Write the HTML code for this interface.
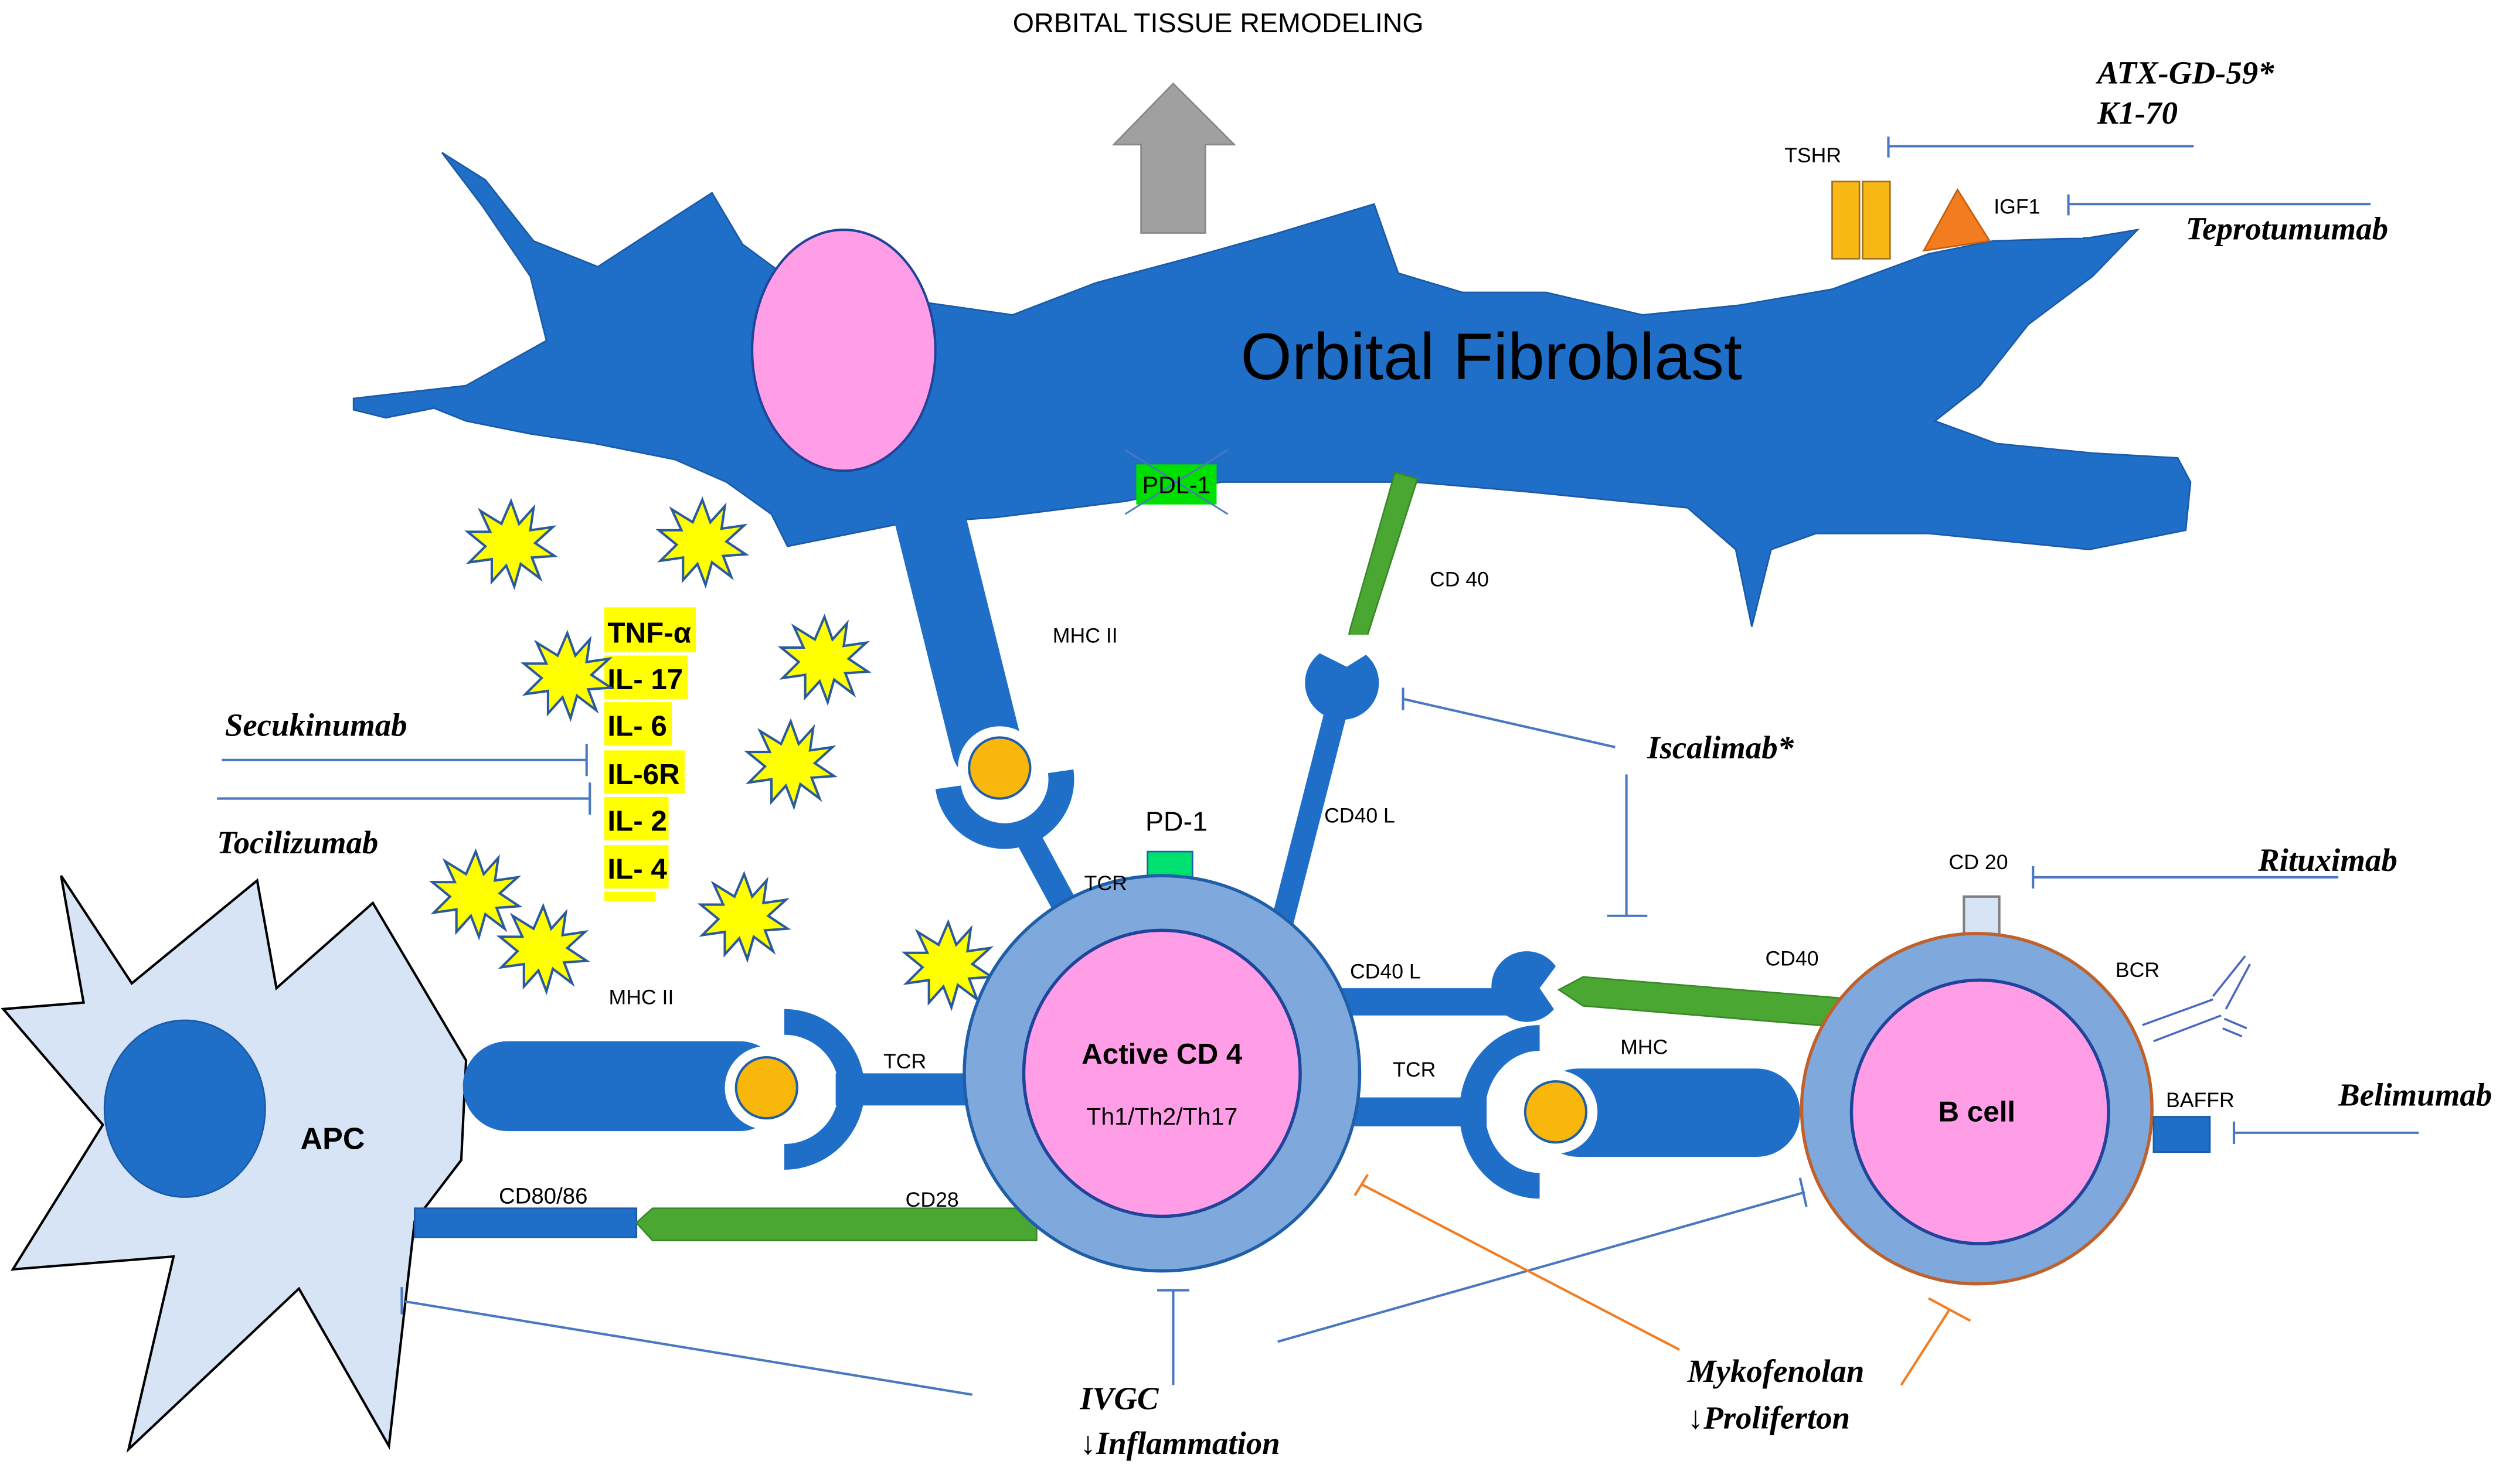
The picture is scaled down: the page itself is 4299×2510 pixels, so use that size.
<!DOCTYPE html>
<html><head><meta charset="utf-8"><style>
html,body{margin:0;padding:0;background:#fff;}
svg{display:block;}
text{font-family:"Liberation Sans",sans-serif;}
.it{font-family:"Liberation Serif",serif;font-style:italic;font-weight:bold;font-size:20px;}
.lb{font-size:13px;fill:#000;}
.ck{font-size:18px;font-weight:bold;}
</style></head><body>
<svg width="4299" height="2510" viewBox="0 0 1568 915.5" preserveAspectRatio="none" xmlns="http://www.w3.org/2000/svg">
<defs>
<g id="star"><polygon points="0,-26 5,-12 14,-22 12,-8 26,-10 15,0 27,8 13,9 18,22 6,13 2,27 -3,14 -12,24 -12,10 -26,12 -16,2 -27,-7 -13,-7 -19,-20 -6,-12" fill="#ffff00" stroke="#2a5a9c" stroke-width="1.5"/></g>
</defs>
<text x="758" y="20" text-anchor="middle" font-size="17">ORBITAL TISSUE REMODELING</text>
<polygon points="710,145 750,145 750,90 768,90 730,52 693,90 710,90" fill="#a0a0a0" stroke="#888" stroke-width="1"/>
<path d="M220,248 L290,240 L340,212 L330,172 L300,128 L275,95 L302,112 L332,150 L372,166 L412,140 L443,120 L462,152 L500,180 L560,186 L630,196 L682,176 L742,160 L792,146 L855,127 L870,170 L910,182 L962,182 L1022,196 L1082,190 L1140,180 L1200,158 L1240,150 L1300,148 L1330,143 L1302,172 L1262,202 L1232,240 L1204,262 L1242,276 L1302,282 L1355,285 L1363,300 L1360,330 L1300,342 L1200,332 L1130,332 L1102,342 L1090,390 L1080,342 L1050,316 L950,306 L880,300 L800,300 L760,300 L700,312 L620,322 L560,326 L490,340 L480,320 L452,300 L420,286 L370,276 L330,270 L290,262 L270,254 L240,260 L220,255 Z" fill="#1f6fc8" stroke="#1a5aa8" stroke-width="1"/>
<ellipse cx="525" cy="218" rx="57" ry="75" fill="#ff9ee6" stroke="#20449a" stroke-width="1.5"/>
<text x="928" y="236" text-anchor="middle" font-size="41">Orbital Fibroblast</text>
<rect x="1140" y="113" width="17" height="48" fill="#f9b814" stroke="#a07020"/>
<rect x="1159" y="113" width="17" height="48" fill="#f9b814" stroke="#a07020"/>
<polygon points="1197,156 1218,118 1238,150" fill="#f47c20" stroke="#c06010"/>
<rect x="1238" y="140" width="58" height="8" fill="#fff"/>
<text x="1128" y="101" text-anchor="middle" class="lb" font-size="14">TSHR</text>
<text x="1255" y="133" text-anchor="middle" class="lb" font-size="14">IGF1</text>
<g stroke="#4a78c0" stroke-width="1.5">
<line x1="1175" y1="91" x2="1365" y2="91"/><line x1="1175" y1="85" x2="1175" y2="98"/>
<line x1="1287" y1="127" x2="1475" y2="127"/><line x1="1287" y1="121" x2="1287" y2="134"/>
</g>
<text x="1305" y="52" class="it">ATX-GD-59*</text>
<text x="1305" y="77" class="it">K1-70</text>
<text x="1360" y="149" class="it">Teprotumumab</text>
<rect x="707" y="289" width="50" height="25" fill="#00e000"/>
<line x1="700" y1="280" x2="764" y2="320" stroke="#4a78c0" stroke-width="1"/>
<line x1="764" y1="280" x2="700" y2="320" stroke="#4a78c0" stroke-width="1"/>
<text x="732" y="307" text-anchor="middle" font-size="15">PDL-1</text>
<line x1="578" y1="320" x2="614" y2="465" stroke="#1f6fc8" stroke-width="44" stroke-linecap="round"/>
<circle cx="622" cy="478" r="26" fill="#fff"/>
<circle cx="622" cy="478" r="19" fill="#f8b70a" stroke="#1f5fa8" stroke-width="1.5"/>
<path d="M590,490 A34 34 0 0 0 660,480" fill="none" stroke="#1f6fc8" stroke-width="16"/>
<line x1="640" y1="522" x2="666" y2="570" stroke="#1f6fc8" stroke-width="16"/>
<text x="655" y="400" class="lb" font-size="14">MHC II</text>
<polygon points="868,294 882,298 850,398 838,402 840,392" fill="#4aa832" stroke="#3a8828"/>
<text x="908" y="365" text-anchor="middle" class="lb">CD 40</text>
<line x1="832" y1="440" x2="795" y2="585" stroke="#1f6fc8" stroke-width="14"/>
<circle cx="835" cy="425" r="23" fill="#1f6fc8"/>
<polygon points="812,402 838,415 862,400 862,395 810,395" fill="#fff"/>
<text x="846" y="512" text-anchor="middle" class="lb">CD40 L</text>
<g stroke="#4a78c0" stroke-width="1.5">
<line x1="873" y1="435" x2="1005" y2="465"/><line x1="873" y1="428" x2="873" y2="442"/>
<line x1="1012" y1="482" x2="1012" y2="570"/><line x1="1000" y1="570" x2="1025" y2="570"/>
</g>
<text x="1025" y="472" class="it">Iscalimab*</text>
<g fill="#ffff00">
<rect x="376" y="378" width="57" height="28"/><rect x="376" y="408" width="52" height="27"/>
<rect x="376" y="437" width="42" height="27"/><rect x="376" y="467" width="50" height="27"/>
<rect x="376" y="496" width="40" height="27"/><rect x="376" y="526" width="40" height="27"/>
<rect x="376" y="555" width="32" height="6"/>
</g>
<text x="378" y="400" class="ck">TNF-α</text>
<text x="378" y="429" class="ck">IL- 17</text>
<text x="378" y="458" class="ck">IL- 6</text>
<text x="378" y="488" class="ck">IL-6R</text>
<text x="378" y="517" class="ck">IL- 2</text>
<text x="378" y="547" class="ck">IL- 4</text>
<use href="#star" x="318" y="338"/><use href="#star" x="437" y="337"/><use href="#star" x="353" y="420"/>
<use href="#star" x="513" y="410"/><use href="#star" x="492" y="475"/><use href="#star" x="296" y="556"/>
<use href="#star" x="338" y="590"/><use href="#star" x="463" y="570"/><use href="#star" x="590" y="600"/>
<g stroke="#4a78c0" stroke-width="1.5">
<line x1="138" y1="473" x2="365" y2="473"/><line x1="365" y1="463" x2="365" y2="483"/>
<line x1="135" y1="497" x2="367" y2="497"/><line x1="367" y1="487" x2="367" y2="507"/>
</g>
<text x="140" y="458" class="it">Secukinumab</text>
<text x="135" y="531" class="it">Tocilizumab</text>
<polygon points="38,545 82,612 160,548 172,615 232,562 290,660 287,722 258,760 242,900 186,802 80,902 108,782 8,790 64,700 2,628 52,624" fill="#d6e4f5" stroke="#000" stroke-width="1.5"/>
<ellipse cx="115" cy="690" rx="50" ry="55" fill="#1f6fc8" stroke="#1a5aa8"/>
<text x="207" y="715" text-anchor="middle" font-size="19" font-weight="bold">APC</text>
<rect x="288" y="648" width="200" height="56" rx="28" fill="#1f6fc8"/>
<circle cx="477" cy="677" r="26" fill="#fff"/>
<circle cx="477" cy="677" r="19" fill="#f8b70a" stroke="#1f5fa8" stroke-width="1.5"/>
<path d="M488,636 A40 40 0 0 1 488,720" fill="none" stroke="#1f6fc8" stroke-width="16"/>
<rect x="520" y="668" width="82" height="20" fill="#1f6fc8"/>
<text x="399" y="625" text-anchor="middle" class="lb" font-size="14">MHC II</text>
<text x="563" y="665" text-anchor="middle" class="lb" font-size="14">TCR</text>
<rect x="258" y="752" width="138" height="18" fill="#1f6fc8" stroke="#1a5aa8"/>
<polygon points="396,761 406,752 645,752 645,772 406,772" fill="#4aa832" stroke="#3a8828"/>
<text x="338" y="749" text-anchor="middle" font-family="Liberation Serif" font-size="14">CD80/86</text>
<text x="580" y="751" text-anchor="middle" class="lb" font-size="14">CD28</text>
<rect x="820" y="615" width="120" height="17" fill="#1f6fc8"/>
<rect x="830" y="683" width="95" height="18" fill="#1f6fc8"/>
<rect x="714" y="530" width="28" height="27" fill="#00e070" stroke="#1f5fa8"/>
<circle cx="723" cy="668" r="123" fill="#7fa8dc" stroke="#1f5fa8" stroke-width="2"/>
<ellipse cx="723" cy="668" rx="86" ry="89" fill="#ff9ee6" stroke="#20449a" stroke-width="2"/>
<text x="723" y="662" text-anchor="middle" font-size="18" font-weight="bold">Active CD 4</text>
<text x="723" y="700" text-anchor="middle" font-size="15">Th1/Th2/Th17</text>
<text x="732" y="517" text-anchor="middle" font-size="17">PD-1</text>
<text x="688" y="554" text-anchor="middle" class="lb" font-size="14">TCR</text>
<text x="862" y="609" text-anchor="middle" class="lb">CD40 L</text>
<text x="880" y="670" text-anchor="middle" class="lb" font-size="14">TCR</text>
<circle cx="950" cy="614" r="22" fill="#1f6fc8"/>
<polygon points="975,592 958,615 975,640 980,640 980,590" fill="#fff"/>
<rect x="955" y="665" width="165" height="55" rx="27" fill="#1f6fc8"/>
<circle cx="968" cy="692" r="26" fill="#fff"/>
<circle cx="968" cy="692" r="19" fill="#f8b70a" stroke="#1f5fa8" stroke-width="1.5"/>
<path d="M958,646 A42 46 0 0 0 958,738" fill="none" stroke="#1f6fc8" stroke-width="16"/>
<text x="1023" y="656" text-anchor="middle" class="lb" font-size="14">MHC</text>
<polygon points="970,616 985,608 1155,622 1155,640 985,626" fill="#4aa832" stroke="#3a8828"/>
<text x="1115" y="601" text-anchor="middle" class="lb">CD40</text>
<rect x="1222" y="558" width="22" height="30" fill="#d6e4f5" stroke="#808080" stroke-width="1.5"/>
<circle cx="1230" cy="690" r="109" fill="#7fa8dc" stroke="#c0602a" stroke-width="2"/>
<ellipse cx="1232" cy="692" rx="80" ry="82" fill="#ff9ee6" stroke="#20449a" stroke-width="2"/>
<text x="1230" y="698" text-anchor="middle" font-size="18" font-weight="bold">B cell</text>
<text x="1231" y="541" text-anchor="middle" class="lb">CD 20</text>
<text x="1330" y="608" text-anchor="middle" class="lb">BCR</text>
<g stroke="#4a68c0" stroke-width="1.3">
<line x1="1333" y1="638" x2="1377" y2="622"/><line x1="1340" y1="648" x2="1382" y2="632"/>
<line x1="1377" y1="620" x2="1397" y2="595"/><line x1="1385" y1="628" x2="1400" y2="600"/>
<line x1="1384" y1="634" x2="1398" y2="640"/><line x1="1383" y1="640" x2="1395" y2="645"/>
</g>
<rect x="1340" y="695" width="35" height="22" fill="#1f6fc8" stroke="#1a5aa8"/>
<text x="1369" y="689" text-anchor="middle" class="lb">BAFFR</text>
<g stroke="#4a78c0" stroke-width="1.5">
<line x1="1265" y1="546" x2="1455" y2="546"/><line x1="1265" y1="539" x2="1265" y2="553"/>
<line x1="1390" y1="705" x2="1505" y2="705"/><line x1="1390" y1="698" x2="1390" y2="712"/>
</g>
<text x="1405" y="542" class="it">Rituximab</text>
<text x="1455" y="688" class="it">Belimumab</text>
<g stroke="#4a78c0" stroke-width="1.5">
<line x1="605" y1="868" x2="252" y2="810"/><line x1="250" y1="801" x2="250" y2="818"/>
<line x1="730" y1="862" x2="730" y2="803"/><line x1="720" y1="803" x2="740" y2="803"/>
<line x1="795" y1="835" x2="1123" y2="742"/><line x1="1120" y1="733" x2="1124" y2="751"/>
</g>
<g stroke="#f47c20" stroke-width="1.5">
<line x1="1045" y1="840" x2="847" y2="737"/><line x1="851" y1="731" x2="843" y2="744"/>
<line x1="1183" y1="862" x2="1213" y2="815"/><line x1="1200" y1="808" x2="1226" y2="822"/>
</g>
<text x="672" y="877" class="it">IVGC</text>
<text x="672" y="905" class="it">↓Inflammation</text>
<text x="1050" y="860" class="it">Mykofenolan</text>
<text x="1050" y="889" class="it">↓Proliferton</text>
</svg>
</body></html>
